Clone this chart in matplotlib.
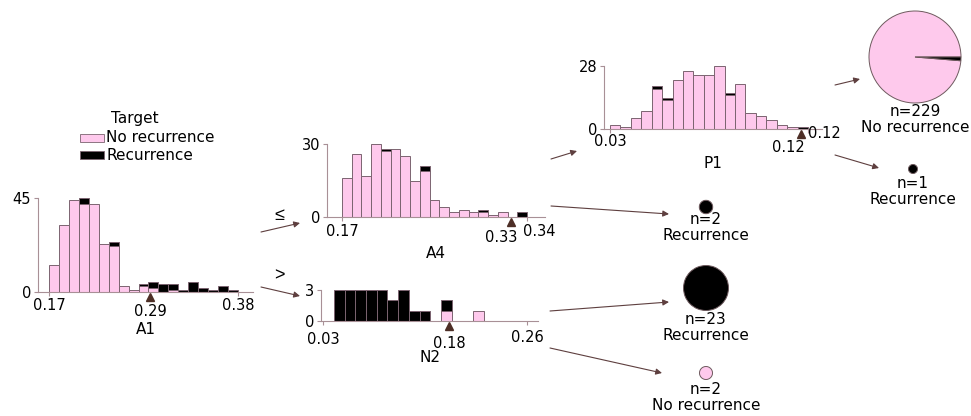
import matplotlib
matplotlib.use("Agg")
import matplotlib.pyplot as plt
import numpy as np
from matplotlib.transforms import offset_copy
from matplotlib.patches import Rectangle

plt.rcParams['font.family'] = ['DejaVu Sans']

# ---------------- data ----------------
classes = ["No recurrence", "Recurrence"]
legend_title = "Target"
edge_labels = ["\u2264", ">"]

# root node: A1
a1_range = (0.172, 0.384)
a1_split = 0.2853
a1_no = [13, 32, 44, 42, 42, 23, 22, 3, 1, 3, 2, 0, 1, 0, 0, 0, 0, 0, 0]
a1_rec = [0, 0, 0, 3, 0, 0, 2, 0, 0, 1, 3, 4, 3, 1, 5, 2, 1, 3, 1]

# left child: A4
a4_range = (0.17, 0.34)
a4_split = 0.3253
a4_no = [16, 26, 17, 30, 27, 28, 25, 15, 19, 7, 4, 2, 3, 2, 2, 1, 2, 0, 0]
a4_rec = [0, 0, 0, 0, 1, 0, 0, 0, 2, 0, 0, 0, 0, 0, 1, 0, 0, 0, 2]

# right child: N2
n2_range = (0.034, 0.264)
n2_split = 0.176
n2_bins = (0.0464, 0.2152)
n2_no = [0, 0, 0, 0, 0, 0, 0, 0, 0, 0, 1, 0, 0, 1]
n2_rec = [3, 3, 3, 3, 3, 2, 3, 1, 1, 0, 1, 0, 0, 0]

# A4 left child: P1
p1_range = (0.03, 0.12)
p1_split = 0.1168
p1_no = [2, 1, 5, 8, 18, 13, 22, 26, 24, 24, 28, 15, 20, 7, 6, 4, 2, 1, 0]
p1_rec = [0, 0, 0, 0, 1, 1, 0, 0, 0, 0, 0, 1, 0, 0, 0, 0, 0, 0, 1]

# leaves
leaf_n = [229, 1, 2, 23, 2]
leaf_no = [226, 0, 0, 0, 2]
leaf_rec = [3, 1, 2, 23, 0]
leaf_class = ["No recurrence", "Recurrence", "Recurrence", "Recurrence", "No recurrence"]

# ---------------- style ----------------
PINK = '#fec9ec'
BLACK = '#000000'
EDGE = '#7b6470'
AXC = '#a89096'
ARROW = '#5e3f3f'
TRI = '#4d2e26'
PIE_EDGE = '#6e5a5e'
TICK_FS = 10.5
LAB_FS = 11

W, H = 971, 416
fig = plt.figure(figsize=(W / 100, H / 100), dpi=100)
fig.patch.set_facecolor('white')

overlay = fig.add_axes([0, 0, 1, 1])
overlay.set_zorder(0)


def hist_panel(L, R, y0, ytop, ref, edges, no, rec, rng, split, feat, cfg):
    ax = fig.add_axes([L / W, (H - y0) / H, (R - L) / W, (y0 - ytop) / H])
    ax.set_zorder(1)
    ax.patch.set_alpha(0)
    (v1, p1), (v2, p2) = ref
    k = (v2 - v1) / (p2 - p1)
    ax.set_xlim(v1 + (L - p1) * k, v1 + (R - p1) * k)
    no = np.asarray(no)
    rec = np.asarray(rec)
    ymax = int((no + rec).max())
    ax.set_ylim(0, ymax)
    lefts = edges[:-1]
    widths = np.diff(edges)
    m = no > 0
    ax.bar(lefts[m], no[m], width=widths[m], align='edge', color=PINK,
           edgecolor=EDGE, linewidth=0.7, clip_on=False)
    m2 = rec > 0
    ax.bar(lefts[m2], rec[m2], bottom=no[m2], width=widths[m2], align='edge',
           color=BLACK, edgecolor=EDGE, linewidth=0.7, clip_on=False)
    for s in ['top', 'right']:
        ax.spines[s].set_visible(False)
    ax.spines['left'].set_bounds(0, ymax)
    for s in ['left', 'bottom']:
        ax.spines[s].set_color(AXC)
        ax.spines[s].set_linewidth(0.8)
    ax.set_yticks([0, ymax])
    ax.set_yticklabels(['0', str(ymax)], fontsize=TICK_FS)
    ax.set_xticks(list(rng))
    ax.set_xticklabels(['', ''])
    ax.tick_params(axis='both', length=3, width=0.8, color=AXC, pad=2)
    tr = ax.get_xaxis_transform()
    # threshold wedge
    ax.plot([split], [0], transform=offset_copy(tr, fig=fig, x=0, y=-5, units='dots'),
            marker='^', markersize=5.5, color=TRI, clip_on=False, linestyle='none')
    # labels
    ax.text(rng[0], 0, f"{rng[0]:.2f}", fontsize=TICK_FS, ha='center', va='center',
            transform=offset_copy(tr, fig=fig, x=0, y=-cfg['dmin'], units='dots'))
    ax.text(split, 0, f"{split:.2f}", fontsize=TICK_FS, ha=cfg['sha'], va='center',
            transform=offset_copy(tr, fig=fig, x=cfg['sdx'], y=-cfg['dsplit'], units='dots'))
    ax.text(rng[1], 0, f"{rng[1]:.2f}", fontsize=TICK_FS, ha=cfg['mha'], va='center',
            transform=offset_copy(tr, fig=fig, x=cfg['mdx'], y=-cfg['dmax'], units='dots'))
    ax.text(0.5, 0, feat, fontsize=LAB_FS, ha='center', va='center',
            transform=offset_copy(ax.transAxes, fig=fig, x=0, y=-cfg['dfeat'], units='dots'))
    return ax


hist_panel(38, 253, 292, 198, ((a1_range[0], 49), (a1_range[1], 238)),
           np.linspace(a1_range[0], a1_range[1], len(a1_no) + 1), a1_no, a1_rec,
           a1_range, a1_split, "A1",
           dict(dmin=13, dsplit=19, dmax=13, sha='center', sdx=0, mha='center', mdx=0, dfeat=38))

hist_panel(327, 545, 217, 144, ((a4_range[0], 342), (a4_range[1], 527)),
           np.linspace(a4_range[0], a4_range[1], len(a4_no) + 1), a4_no, a4_rec,
           a4_range, a4_split, "A4",
           dict(dmin=15, dsplit=20, dmax=14.5, sha='right', sdx=6, mha='left', mdx=-4, dfeat=36))

hist_panel(321, 538, 321, 290, ((n2_range[0], 323), (n2_range[1], 527)),
           np.linspace(n2_bins[0], n2_bins[1], len(n2_no) + 1), n2_no, n2_rec,
           n2_range, n2_split, "N2",
           dict(dmin=18, dsplit=22, dmax=17, sha='center', sdx=0, mha='center', mdx=0, dfeat=37))

hist_panel(604, 822, 129, 66, ((p1_range[0], 610), (p1_range[1], 808)),
           np.linspace(p1_range[0], p1_range[1], len(p1_no) + 1), p1_no, p1_rec,
           p1_range, p1_split, "P1",
           dict(dmin=13, dsplit=18, dmax=5, sha='right', sdx=4, mha='left', mdx=0, dfeat=34))

# ---------------- leaves ----------------
leaf_xy = [(915, 57), (913, 169), (706, 207), (706, 288), (706, 373)]
leaf_r = [46, 4.5, 6.7, 22.5, 6.5]
leaf_text_y = [(112, 128), (183, 199), (219, 235), (319, 335), (390, 406)]

for i in range(len(leaf_n)):
    vals = [leaf_no[i], leaf_rec[i]]
    cols = [PINK, BLACK]
    v = [a for a in vals if a > 0]
    c = [cc for a, cc in zip(vals, cols) if a > 0]
    overlay.pie(v, colors=c, center=leaf_xy[i], radius=leaf_r[i], startangle=0,
                counterclock=False, wedgeprops=dict(edgecolor=PIE_EDGE, linewidth=0.7))
    overlay.text(leaf_xy[i][0], leaf_text_y[i][0], f"n={leaf_n[i]}", fontsize=LAB_FS,
                 ha='center', va='center')
    overlay.text(leaf_xy[i][0], leaf_text_y[i][1], leaf_class[i], fontsize=LAB_FS,
                 ha='center', va='center')

# ---------------- arrows ----------------
arrows = [((261, 232), (300, 223)), ((261, 287), (300, 296)),
          ((551, 159), (577, 151)), ((551, 206), (669, 214)),
          ((550, 311), (669, 302)), ((550, 348), (662, 373)),
          ((835, 85), (860, 79)), ((835, 155), (879, 168))]
for s, e in arrows:
    overlay.annotate("", xy=e, xytext=s,
                     arrowprops=dict(arrowstyle="-|>", color=ARROW, lw=0.8,
                                     mutation_scale=9, shrinkA=0, shrinkB=0))
overlay.text(279, 216, edge_labels[0], fontsize=13, ha='center', va='center',
             family=['Liberation Sans', 'DejaVu Sans'])
overlay.text(279, 276, edge_labels[1], fontsize=13, ha='center', va='center',
             family=['Liberation Sans', 'DejaVu Sans'])

# ---------------- legend ----------------
overlay.text(135, 119, legend_title, fontsize=LAB_FS, ha='center', va='center')
overlay.add_patch(Rectangle((80, 134), 24, 8, facecolor=PINK, edgecolor=EDGE, linewidth=0.6))
overlay.add_patch(Rectangle((80, 151), 24, 8, facecolor=BLACK, edgecolor=EDGE, linewidth=0.6))
overlay.text(106, 138, classes[0], fontsize=LAB_FS, ha='left', va='center')
overlay.text(106, 155, classes[1], fontsize=LAB_FS, ha='left', va='center')

overlay.set_xlim(0, W)
overlay.set_ylim(H, 0)
overlay.set_aspect('auto')
overlay.axis('off')

fig.savefig('out.png', dpi=100)
